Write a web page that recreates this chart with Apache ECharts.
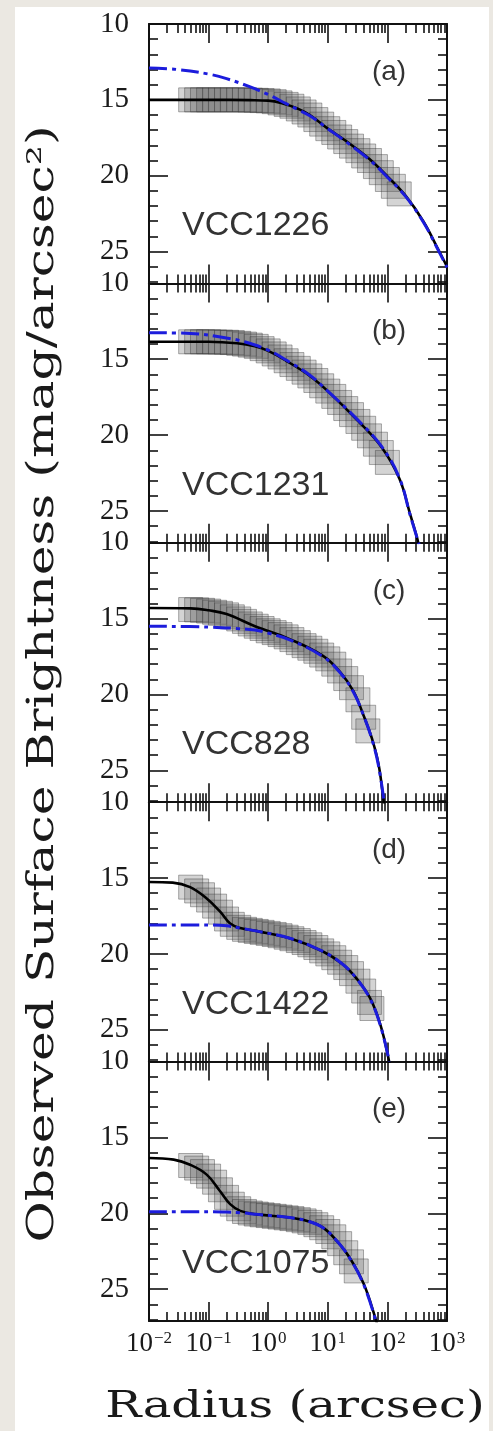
<!DOCTYPE html>
<html>
<head>
<meta charset="utf-8">
<script src="https://cdn.jsdelivr.net/npm/echarts@6/dist/echarts.min.js"></script>
<style>
  html, body { margin: 0; padding: 0; background: #ebe8e2; }
  #chart { width: 493px; height: 1431px; }
</style>
</head>
<body>
<div id="chart"></div>
<script>
// Galaxy surface-brightness profiles: observed band (grey squares),
// total model (solid black) and Sersic component (blue dash-dot).
const galaxyNames = ['VCC1226', 'VCC1231', 'VCC828', 'VCC1422', 'VCC1075'];
const panelTags = ['(a)', '(b)', '(c)', '(d)', '(e)'];

const xMajorTicks = [0.01, 0.1, 1, 10, 100, 1000];
const xMinorFactors = [2, 3, 4, 5, 6, 7, 8, 9];
const yMajorTicks = [10, 15, 20, 25];
const yMinorTicks = [11, 12, 13, 14, 16, 17, 18, 19, 21, 22, 23, 24, 26, 27];

// radius (arcsec), mu (mag/arcsec^2)
const observedA = [[0.05,15.0],[0.063,15.0],[0.079,15.0],[0.1,15.0],[0.126,15.0],[0.158,15.0],[0.2,15.0],[0.25,15.0],[0.32,15.0],[0.4,15.0],[0.5,15.02],[0.63,15.03],[0.79,15.05],[1.0,15.07],[1.26,15.12],[1.58,15.2],[2.0,15.3],[2.5,15.42],[3.2,15.6],[4.0,15.8],[5.0,16.0],[6.3,16.3],[7.9,16.6],[10,16.9],[12.6,17.15],[15.8,17.45],[20,17.75],[25,18.05],[32,18.35],[40,18.7],[50,19.0],[63,19.4],[79,19.8],[100,20.25],[126,20.7],[158,21.2]];
const modelA = [[0.01,15.0],[0.1,15.0],[0.5,15.02],[1,15.05],[2,15.3],[3,15.55],[5,16.0],[10,16.9],[20,17.7],[50,18.9],[100,20.05],[200,21.3],[400,23.0],[700,24.8],[1000,26.0]];
const sersicA = [[0.01,12.9],[0.03,13.0],[0.1,13.3],[0.2,13.6],[0.5,14.15],[1,14.65],[2,15.25],[3,15.6],[5,16.05],[10,16.9],[20,17.75],[50,18.95],[100,20.1],[200,21.35],[400,23.05],[700,24.85],[1000,26.05]];

const observedB = [[0.05,13.85],[0.063,13.85],[0.079,13.85],[0.1,13.85],[0.126,13.86],[0.158,13.87],[0.2,13.88],[0.25,13.9],[0.32,13.95],[0.4,14.0],[0.5,14.07],[0.63,14.15],[0.79,14.3],[1.0,14.45],[1.26,14.65],[1.58,14.85],[2.0,15.1],[2.5,15.35],[3.2,15.6],[4.0,15.85],[5.0,16.1],[6.3,16.4],[7.9,16.75],[10,17.1],[12.6,17.45],[15.8,17.85],[20,18.25],[25,18.65],[32,19.1],[40,19.55],[50,20.05],[63,20.6],[79,21.15],[100,21.8]];
const modelB = [[0.01,13.85],[0.1,13.85],[0.3,13.95],[0.6,14.15],[1,14.45],[2,15.1],[5,16.1],[10,17.1],[30,18.95],[80,20.8],[160,22.9],[240,25.2],[330,27.1],[360,28]];
const sersicB = [[0.01,13.25],[0.05,13.3],[0.2,13.6],[0.4,13.85],[1,14.4],[2,15.05],[5,16.05],[10,17.1],[30,18.9],[80,20.75],[160,22.85],[240,25.25],[340,27.2]];

const observedC = [[0.05,14.4],[0.063,14.42],[0.079,14.45],[0.1,14.5],[0.126,14.58],[0.158,14.65],[0.2,14.75],[0.25,14.88],[0.32,15.02],[0.4,15.18],[0.5,15.35],[0.63,15.5],[0.79,15.65],[1.0,15.8],[1.26,15.92],[1.58,16.05],[2.0,16.2],[2.5,16.38],[3.2,16.58],[4.0,16.78],[5.0,16.95],[6.3,17.15],[7.9,17.4],[10,17.65],[12.6,18.0],[15.8,18.45],[20,18.95],[25,19.55],[32,20.35],[40,21.5],[47,22.4]];
const modelC = [[0.01,14.3],[0.05,14.32],[0.1,14.45],[0.2,14.7],[0.6,15.5],[2.3,16.35],[8.3,17.45],[16,18.5],[27,19.8],[40,21.4],[55,22.9],[71,24.6],[85,26.8],[95,28.2]];
const sersicC = [[0.01,15.5],[0.1,15.55],[0.3,15.65],[0.6,15.75],[1,15.95],[2.3,16.4],[8.3,17.5],[16,18.55],[27,19.85],[40,21.4],[55,22.95],[71,24.7],[88,27.1]];

const observedD = [[0.05,15.6],[0.063,15.85],[0.079,16.1],[0.1,16.45],[0.126,16.85],[0.158,17.25],[0.2,17.7],[0.25,18.05],[0.32,18.25],[0.4,18.38],[0.5,18.45],[0.63,18.52],[0.79,18.58],[1.0,18.65],[1.26,18.72],[1.58,18.8],[2.0,18.9],[2.5,19.0],[3.2,19.12],[4.0,19.25],[5.0,19.4],[6.3,19.58],[7.9,19.8],[10,20.0],[12.6,20.25],[15.8,20.55],[20,20.9],[25,21.3],[32,21.8],[40,22.45],[50,23.2],[55,23.6]];
const modelD = [[0.01,15.26],[0.025,15.3],[0.049,15.6],[0.093,16.35],[0.155,17.2],[0.23,18.0],[0.34,18.3],[0.65,18.5],[2.3,18.97],[8.3,19.84],[18,20.7],[30,21.6],[51,22.9],[76,24.65],[105,26.95],[115,28]];
const sersicD = [[0.01,18.1],[0.1,18.1],[0.2,18.15],[0.34,18.3],[0.65,18.5],[2.3,18.97],[8.3,19.84],[18,20.7],[30,21.6],[51,22.95],[76,24.7],[108,27.1]];

const observedE = [[0.05,16.85],[0.063,17.02],[0.079,17.25],[0.1,17.55],[0.126,17.95],[0.158,18.45],[0.2,18.95],[0.25,19.4],[0.32,19.7],[0.4,19.88],[0.5,19.98],[0.63,20.05],[0.79,20.1],[1.0,20.15],[1.26,20.2],[1.58,20.25],[2.0,20.3],[2.5,20.35],[3.2,20.42],[4.0,20.5],[5.0,20.6],[6.3,20.75],[7.9,20.95],[10,21.2],[12.6,21.55],[15.8,22.0],[20,22.6],[25,23.2],[30,23.8]];
const modelE = [[0.01,16.35],[0.026,16.46],[0.049,16.8],[0.093,17.45],[0.155,18.53],[0.23,19.4],[0.34,19.84],[0.65,20.07],[2.3,20.28],[4.5,20.5],[8.3,20.94],[14,21.8],[23,22.9],[40,24.65],[62,26.83],[70,27.6]];
const sersicE = [[0.01,19.9],[0.1,19.9],[0.2,19.92],[0.34,19.96],[0.65,20.07],[2.3,20.28],[4.5,20.5],[8.3,20.95],[14,21.8],[23,22.92],[40,24.7],[64,27.1]];

const observed = [observedA, observedB, observedC, observedD, observedE];
const models = [modelA, modelB, modelC, modelD, modelE];
const sersics = [sersicA, sersicB, sersicC, sersicD, sersicE];

// layout
const GRID_LEFT = 149, GRID_W = 298, GRID_TOP = 24, GRID_H = 259.4;
const Y_MIN = 10, Y_MAX = 27.1;
const INK = '#111';
const BLUE = '#1c1cdc';
const TITLE_FONT = 'DejaVu Serif';

// minor log ticks live on value axes spanning log10(radius)
const minorLogTicks = [];
for (let d = -2; d < 3; d++) {
  xMinorFactors.forEach(k => minorLogTicks.push(+(Math.log10(k) + d).toFixed(5)));
}
const supMinus = n => (n < 0 ? '\u2212' + (-n) : String(n));

const grids = [], xAxes = [], yAxes = [], series = [], graphics = [];
const line2 = { show: true, onZero: false, lineStyle: { color: INK, width: 2 } };
const noLine = { show: false, onZero: false };
const tickStyle = { color: INK, width: 1.6 };

for (let i = 0; i < 5; i++) {
  const top = GRID_TOP + i * GRID_H;
  const last = i === 4;
  // main grid: data, major ticks, labels
  const g = grids.length;
  grids.push({ left: GRID_LEFT, top: top, width: GRID_W, height: GRID_H });
  const xb = xAxes.length;
  xAxes.push({
    type: 'log', logBase: 10, gridIndex: g, position: 'bottom', min: 0.01, max: 1000,
    axisLine: line2, splitLine: { show: false }, minorTick: { show: false },
    axisTick: { inside: true, length: 19, lineStyle: tickStyle },
    axisLabel: {
      show: last, margin: 9,
      formatter: v => '{b|10}{s|' + supMinus(Math.round(Math.log10(v))) + '}',
      rich: {
        b: { fontFamily: 'Liberation Serif', fontSize: 27, color: '#1a1a1a' },
        s: { fontFamily: 'Liberation Serif', fontSize: 17, color: '#1a1a1a', verticalAlign: 'top', padding: [0, 0, 0, 1] }
      }
    }
  });
  xAxes.push({
    type: 'log', logBase: 10, gridIndex: g, position: 'top', min: 0.01, max: 1000,
    axisLine: line2, splitLine: { show: false }, minorTick: { show: false },
    axisTick: { inside: true, length: 19, lineStyle: tickStyle },
    axisLabel: { show: false }
  });
  const yl = yAxes.length;
  yAxes.push({
    type: 'value', gridIndex: g, position: 'left', inverse: true, min: Y_MIN, max: Y_MAX,
    axisLine: line2, splitLine: { show: false },
    axisTick: { inside: true, length: 19, lineStyle: tickStyle, customValues: yMajorTicks },
    axisLabel: {
      margin: 20, customValues: yMajorTicks,
      fontFamily: 'Liberation Serif', fontSize: 29, color: '#1a1a1a'
    }
  });
  yAxes.push({
    type: 'value', gridIndex: g, position: 'right', inverse: true, min: Y_MIN, max: Y_MAX,
    axisLine: line2, splitLine: { show: false },
    axisTick: { inside: true, length: 19, lineStyle: tickStyle, customValues: yMajorTicks },
    axisLabel: { show: false }
  });

  // overlay grid carrying only the minor ticks
  const m = grids.length;
  grids.push({ left: GRID_LEFT, top: top, width: GRID_W, height: GRID_H });
  ['bottom', 'top'].forEach(pos => xAxes.push({
    type: 'value', gridIndex: m, position: pos, min: -2, max: 3,
    axisLine: noLine, splitLine: { show: false }, axisLabel: { show: false },
    axisTick: { inside: true, length: 9, lineStyle: tickStyle, customValues: minorLogTicks }
  }));
  ['left', 'right'].forEach(pos => yAxes.push({
    type: 'value', gridIndex: m, position: pos, inverse: true, min: Y_MIN, max: Y_MAX,
    axisLine: noLine, splitLine: { show: false }, axisLabel: { show: false },
    axisTick: { inside: true, length: 9, lineStyle: tickStyle, customValues: yMinorTicks }
  }));

  series.push({
    type: 'scatter', xAxisIndex: xb, yAxisIndex: yl, data: observed[i],
    symbol: 'rect', symbolSize: 24, silent: true, z: 2,
    itemStyle: { color: 'rgba(100,100,100,0.34)', borderColor: 'rgba(55,55,55,0.5)', borderWidth: 1 }
  });
  series.push({
    type: 'line', xAxisIndex: xb, yAxisIndex: yl, data: models[i],
    showSymbol: false, smooth: 0.4, silent: true, z: 3,
    lineStyle: { color: '#000', width: 2.6 }
  });
  series.push({
    type: 'line', xAxisIndex: xb, yAxisIndex: yl, data: sersics[i],
    showSymbol: false, smooth: 0.4, silent: true, z: 4,
    lineStyle: { color: BLUE, width: 3, type: [18, 5, 4, 5] }
  });

  graphics.push({
    type: 'text', x: 389, y: top + 48, z: 100,
    style: { text: panelTags[i], fontFamily: 'Liberation Sans', fontSize: 28, fill: '#333', align: 'center', verticalAlign: 'middle' }
  });
  graphics.push({
    type: 'text', x: 182, y: top + 202, z: 100,
    style: { text: galaxyNames[i], fontFamily: 'Liberation Sans', fontSize: 34, fill: '#333', align: 'left', verticalAlign: 'middle' }
  });
}

graphics.unshift({
  type: 'rect', z: -10, silent: true,
  shape: { x: 15, y: 7, width: 474, height: 1424 },
  style: { fill: '#ffffff' }
});
// axis titles in a wide slab serif, stretched along the reading direction
graphics.push({
  type: 'text', x: 43, y: 684, rotation: Math.PI / 2, scaleX: 1.36, z: 100,
  style: {
    text: 'Observed Surface Brightness (mag/arcsec\u00b2)',
    fontFamily: TITLE_FONT, fontSize: 37, fill: '#1a1a1a',
    align: 'center', verticalAlign: 'middle'
  }
});
graphics.push({
  type: 'text', x: 295, y: 1407, scaleX: 1.3, z: 100,
  style: {
    text: 'Radius (arcsec)',
    fontFamily: TITLE_FONT, fontSize: 37, fill: '#1a1a1a',
    align: 'center', verticalAlign: 'middle'
  }
});

const chart = echarts.init(document.getElementById('chart'), null, { renderer: 'canvas' });
chart.setOption({
  animation: false,
  backgroundColor: '#ebe8e2',
  grid: grids,
  xAxis: xAxes,
  yAxis: yAxes,
  series: series,
  graphic: { elements: graphics }
});
</script>
</body>
</html>
